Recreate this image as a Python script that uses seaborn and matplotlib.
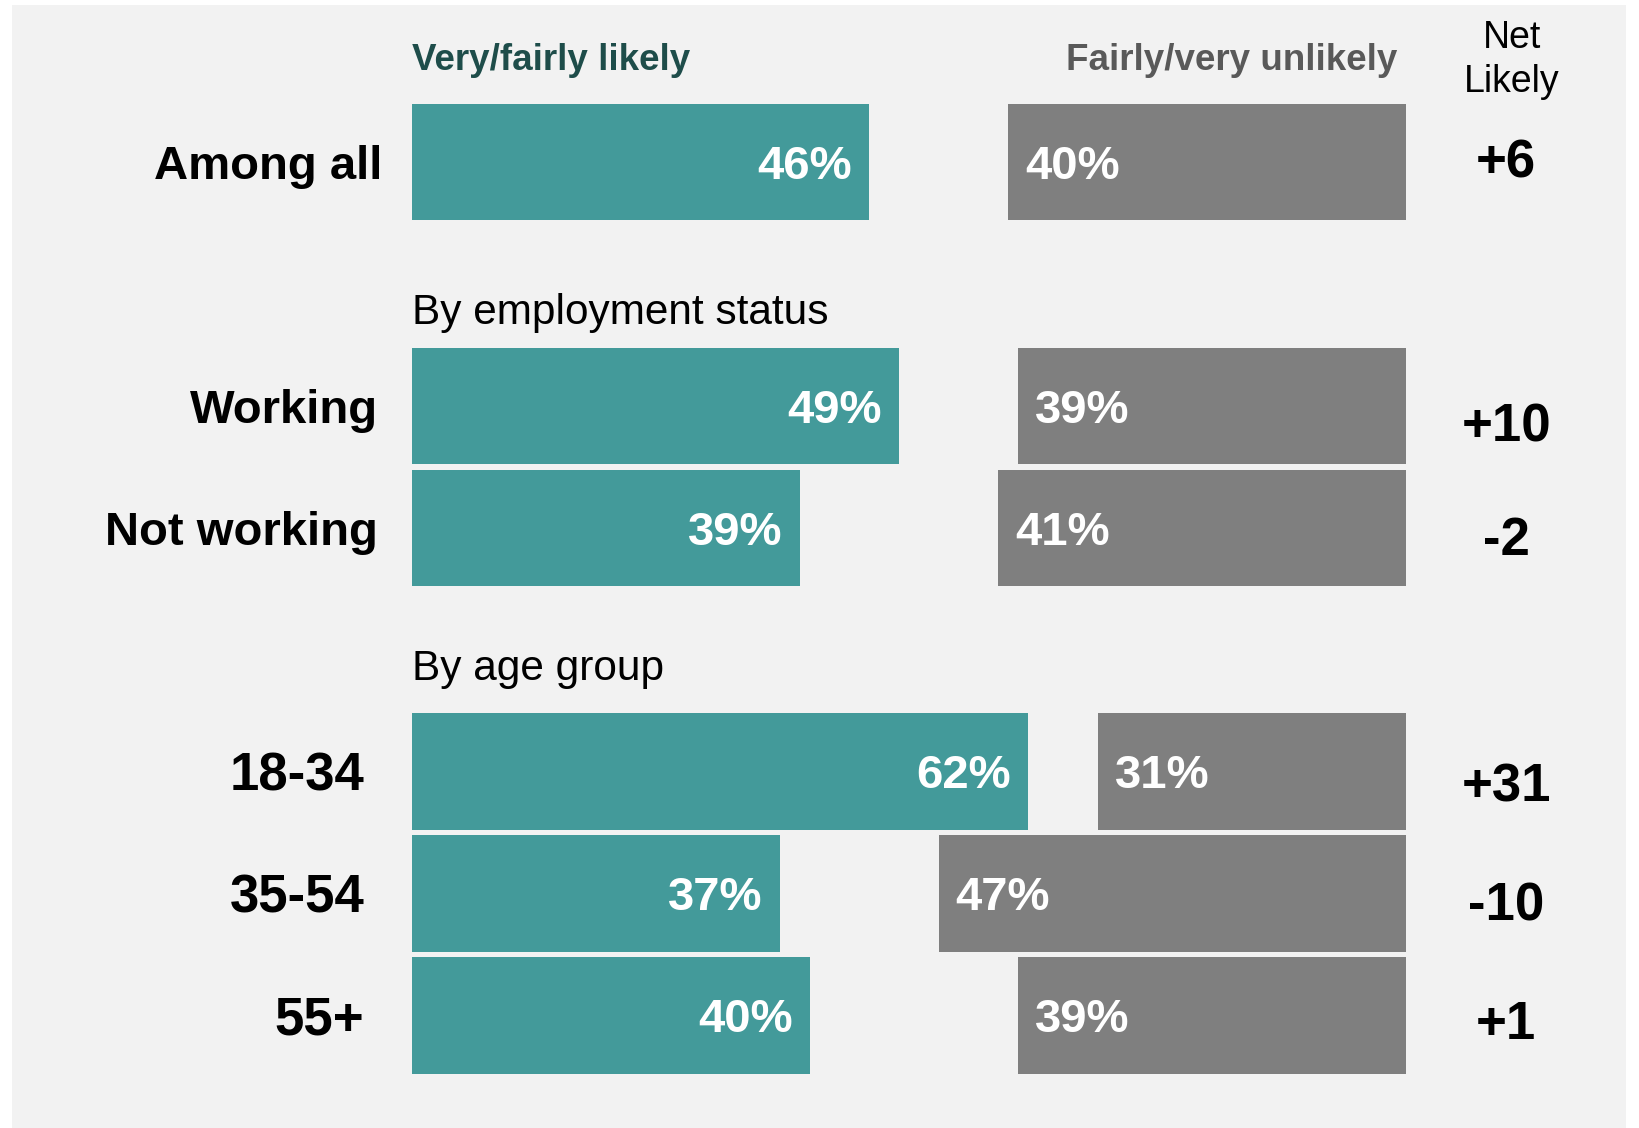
import pandas as pd
import matplotlib.pyplot as plt
from matplotlib.patches import Rectangle
import seaborn as sns

# values
groups = ["Among all", "Working", "Not working", "18-34", "35-54", "55+"]
likely = [46, 49, 39, 62, 37, 40]
unlikely = [40, 39, 41, 31, 47, 39]
net_likely = ["+6", "+10", "-2", "+31", "-10", "+1"]
sections = ["By employment status", "By age group"]
col_likely = "Very/fairly likely"
col_unlikely = "Fairly/very unlikely"
col_net = "Net\nLikely"

# layout
rows = [0, 2, 3, 5, 6, 7]
label_x = [-2.95, -3.45, -3.45, -4.8, -4.8, -4.8]
label_size = [34, 34, 34, 38, 38, 38]
net_dy = [0.01, 0.18, 0.11, 0.13, 0.11, 0.08]
section_y = [1.235, 4.155]
text_dy = 0.04  # va="center" counts descenders, nudge down a touch

teal = "#439A9A"
grey = "#7F7F7F"
panel = "#F2F2F2"

sns.set_style("white")
plt.rcParams["font.family"] = ["Liberation Sans", "DejaVu Sans"]

df = pd.DataFrame({"group": groups, "row": rows,
                   "likely": likely, "unlikely": unlikely})

fig = plt.figure(figsize=(16.4, 11.28), dpi=100)
fig.patch.set_facecolor("white")
fig.patches.append(Rectangle((12 / 1640, 0), (1626 - 12) / 1640, 1 - 5 / 1128,
                             transform=fig.transFigure, facecolor=panel,
                             edgecolor="none", zorder=-10))

ax = fig.add_axes([0, 0, 1, 1])
ax.set_facecolor("none")
xlim = (-41.47, 123.57)
ylim = (7.924, -1.330)

sns.barplot(data=df, x="likely", y="row", orient="h", native_scale=True,
            color=teal, saturation=1, width=0.955, linewidth=0, ax=ax)

# unlikely bars grow leftwards from the 100% mark
ax2 = ax.twiny()
sns.barplot(data=df, x="unlikely", y="row", orient="h", native_scale=True,
            color=grey, saturation=1, width=0.955, linewidth=0, ax=ax2)

ax.set_xlim(*xlim)
ax2.set_xlim(100 - xlim[0], 100 - xlim[1])
ax.set_ylim(*ylim)
ax2.set_ylim(*ylim)
ax.axis("off")
ax2.axis("off")

for r, g, lx, ls, l, u, n, dy in zip(rows, groups, label_x, label_size,
                                     likely, unlikely, net_likely, net_dy):
    ty = r + text_dy
    ax.text(lx, ty, g, ha="right", va="center", fontsize=ls,
            fontweight="bold", color="black")
    ax.text(l - 1.7, ty, f"{l}%", ha="right", va="center", fontsize=34,
            fontweight="bold", color="white")
    ax2.text(u - 1.7, ty, f"{u}%", ha="left", va="center", fontsize=34,
             fontweight="bold", color="white")
    ax.text(110.1, r + dy, n, ha="center", va="center", fontsize=38,
            fontweight="bold", color="black")

for s, sy in zip(sections, section_y):
    ax.text(0, sy, s, ha="left", va="center", fontsize=30.5, color="black")

ax.text(0, -0.83, col_likely, ha="left", va="center", fontsize=26.5,
        fontweight="bold", color="#1E4D4A")
ax.text(99.2, -0.83, col_unlikely, ha="right", va="center", fontsize=26.5,
        fontweight="bold", color="#595959")
ax.text(110.65, -0.84, col_net, ha="center", va="center", fontsize=27,
        color="black", linespacing=1.3)

fig.savefig("out.png", dpi=100)
